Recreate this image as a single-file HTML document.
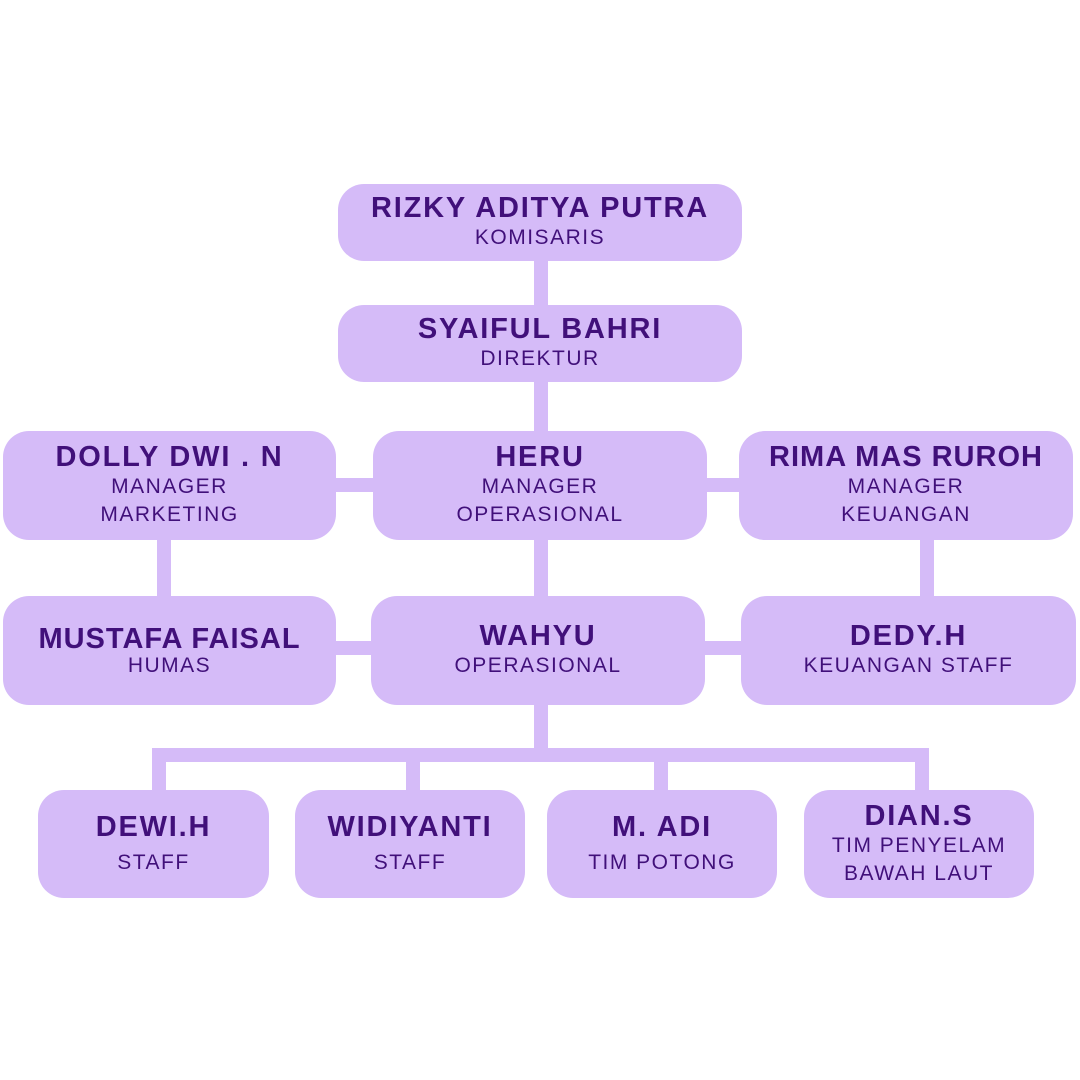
<!DOCTYPE html>
<html><head><meta charset="utf-8"><style>
html,body{margin:0;padding:0;background:#fff;}
body{width:1080px;height:1080px;position:relative;overflow:hidden;font-family:"Liberation Sans",sans-serif;color:#41107a;}
.b{position:absolute;background:#d5bbf8;border-radius:26px;display:flex;flex-direction:column;align-items:center;justify-content:center;text-align:center;}
.n{font-weight:bold;font-size:29px;line-height:31px;letter-spacing:1.8px;white-space:nowrap;}
.s{font-size:21px;line-height:28px;letter-spacing:1.5px;white-space:nowrap;}
.l{position:absolute;background:#d5bbf8;}
</style></head><body>
<div class="l" style="left:534px;top:255px;width:14px;height:60px"></div>
<div class="l" style="left:534px;top:375px;width:14px;height:380px"></div>
<div class="l" style="left:330px;top:478px;width:50px;height:14px"></div>
<div class="l" style="left:700px;top:478px;width:45px;height:14px"></div>
<div class="l" style="left:330px;top:641px;width:50px;height:14px"></div>
<div class="l" style="left:700px;top:641px;width:45px;height:14px"></div>
<div class="l" style="left:157px;top:535px;width:14px;height:70px"></div>
<div class="l" style="left:920px;top:535px;width:14px;height:70px"></div>
<div class="l" style="left:152px;top:748px;width:777px;height:14px;border-radius:6px"></div>
<div class="l" style="left:152px;top:748px;width:14px;height:50px"></div>
<div class="l" style="left:406px;top:748px;width:14px;height:50px"></div>
<div class="l" style="left:654px;top:748px;width:14px;height:50px"></div>
<div class="l" style="left:915px;top:748px;width:14px;height:50px"></div>

<div class="b" style="left:338px;top:184px;width:404px;height:77px"><div class="n">RIZKY ADITYA PUTRA</div><div class="s">KOMISARIS</div></div>
<div class="b" style="left:338px;top:305px;width:404px;height:77px"><div class="n">SYAIFUL BAHRI</div><div class="s">DIREKTUR</div></div>
<div class="b" style="left:3px;top:431px;width:333px;height:109px"><div class="n">DOLLY DWI . N</div><div class="s">MANAGER<br>MARKETING</div></div>
<div class="b" style="left:373px;top:431px;width:334px;height:109px"><div class="n">HERU</div><div class="s">MANAGER<br>OPERASIONAL</div></div>
<div class="b" style="left:739px;top:431px;width:334px;height:109px"><div class="n" style="letter-spacing:1px">RIMA MAS RUROH</div><div class="s">MANAGER<br>KEUANGAN</div></div>
<div class="b" style="left:3px;top:596px;width:333px;height:109px"><div class="n" style="letter-spacing:1px">MUSTAFA FAISAL</div><div class="s" style="line-height:22px">HUMAS</div></div>
<div class="b" style="left:371px;top:596px;width:334px;height:109px"><div class="n">WAHYU</div><div class="s">OPERASIONAL</div></div>
<div class="b" style="left:741px;top:596px;width:335px;height:109px"><div class="n">DEDY.H</div><div class="s">KEUANGAN STAFF</div></div>
<div class="b" style="left:38px;top:790px;width:231px;height:108px"><div class="n">DEWI.H</div><div class="s" style="margin-top:6px">STAFF</div></div>
<div class="b" style="left:295px;top:790px;width:230px;height:108px"><div class="n">WIDIYANTI</div><div class="s" style="margin-top:6px">STAFF</div></div>
<div class="b" style="left:547px;top:790px;width:230px;height:108px"><div class="n">M. ADI</div><div class="s" style="margin-top:6px">TIM POTONG</div></div>
<div class="b" style="left:804px;top:790px;width:230px;height:108px"><div class="n">DIAN.S</div><div class="s">TIM PENYELAM<br>BAWAH LAUT</div></div>
</body></html>
